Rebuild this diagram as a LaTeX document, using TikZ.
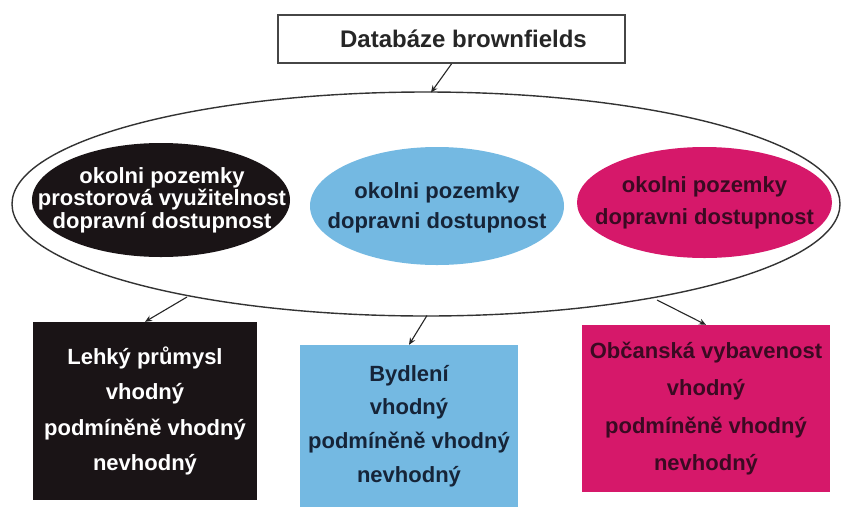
\documentclass[tikz,border=0pt]{standalone}
\usepackage{fontspec}
\setmainfont{Liberation Sans}
\usetikzlibrary{arrows.meta,shapes.geometric}
\definecolor{blackfill}{RGB}{26,20,22}
\definecolor{bluefill}{RGB}{116,185,226}
\definecolor{magfill}{RGB}{214,24,106}
\definecolor{bluetext}{RGB}{22,36,56}
\definecolor{magtext}{RGB}{58,10,34}
\definecolor{framegray}{RGB}{70,70,70}
\begin{document}
\begin{tikzpicture}[x=1pt,y=-1pt,
  lbl/.style={font=\fontsize{22}{23}\selectfont\bfseries, align=center},
  inner/.style={ellipse, inner sep=0pt},
  catbox/.style={rectangle, inner sep=0pt, lbl},
  conn/.style={-{Stealth[length=7pt,width=6pt]}, line width=1.1pt, black!85}
]
\useasboundingbox (0,0) rectangle (844,507);
\fill[white] (0,0) rectangle (844,507);

% top box
\node[rectangle, draw=framegray, line width=1.8pt, minimum width=347pt, minimum height=48pt,
      font=\fontsize{24}{26}\selectfont\bfseries, text=black!85] (top) at (451.5,39) {\hspace*{24pt}Databáze brownfields};

% big ellipse
\node[ellipse, draw=black!80, line width=1.4pt, minimum width=828pt, minimum height=224pt] (big) at (426,204) {};

% inner ellipses
\node[inner, fill=blackfill, minimum width=258pt, minimum height=114pt,
      label={[lbl, text=white, font=\fontsize{22}{22.5}\selectfont\bfseries, xshift=1pt]center:okolni pozemky\\prostorová využitelnost\\dopravní dostupnost}] (e1) at (161,200) {};
\node[inner, fill=bluefill, minimum width=254pt, minimum height=118pt,
      label={[lbl, text=bluetext, font=\fontsize{22}{30}\selectfont\bfseries, yshift=-2pt]center:okolni pozemky\\dopravni dostupnost}] (e2) at (437,206) {};
\node[inner, fill=magfill, minimum width=255pt, minimum height=111pt,
      label={[lbl, text=magtext, font=\fontsize{22}{32}\selectfont\bfseries]center:okolni pozemky\\dopravni dostupnost}] (e3) at (704.5,202.5) {};

% category boxes
\node[catbox, fill=blackfill, text=white, minimum width=224pt, minimum height=178pt,
      font=\fontsize{22}{35.5}\selectfont\bfseries] (b1) at (145,411)
  {Lehký průmysl\\vhodný\\podmíněně vhodný\\nevhodný};
\node[catbox, fill=bluefill, text=bluetext, minimum width=218pt, minimum height=162pt,
      font=\fontsize{22}{33.7}\selectfont\bfseries] (b2) at (409,426)
  {Bydlení\\vhodný\\podmíněně vhodný\\nevhodný};
\node[catbox, fill=magfill, text=magtext, minimum width=248pt, minimum height=167pt,
      font=\fontsize{22}{37.3}\selectfont\bfseries] (b3) at (706,408.5)
  {Občanská vybavenost\\vhodný\\podmíněně vhodný\\nevhodný};

% connector anchors on the big ellipse
\coordinate (eT) at (431,92.5);
\coordinate (eL) at (187,297);
\coordinate (eM) at (427,315.5);
\coordinate (eR) at (657,300);

\draw[conn] (top.south) -- (eT);
\draw[conn] (eL) -- (b1.north);
\draw[conn] (eM) -- (b2.north);
\draw[conn] (eR) -- (b3.north);
\end{tikzpicture}
\end{document}
